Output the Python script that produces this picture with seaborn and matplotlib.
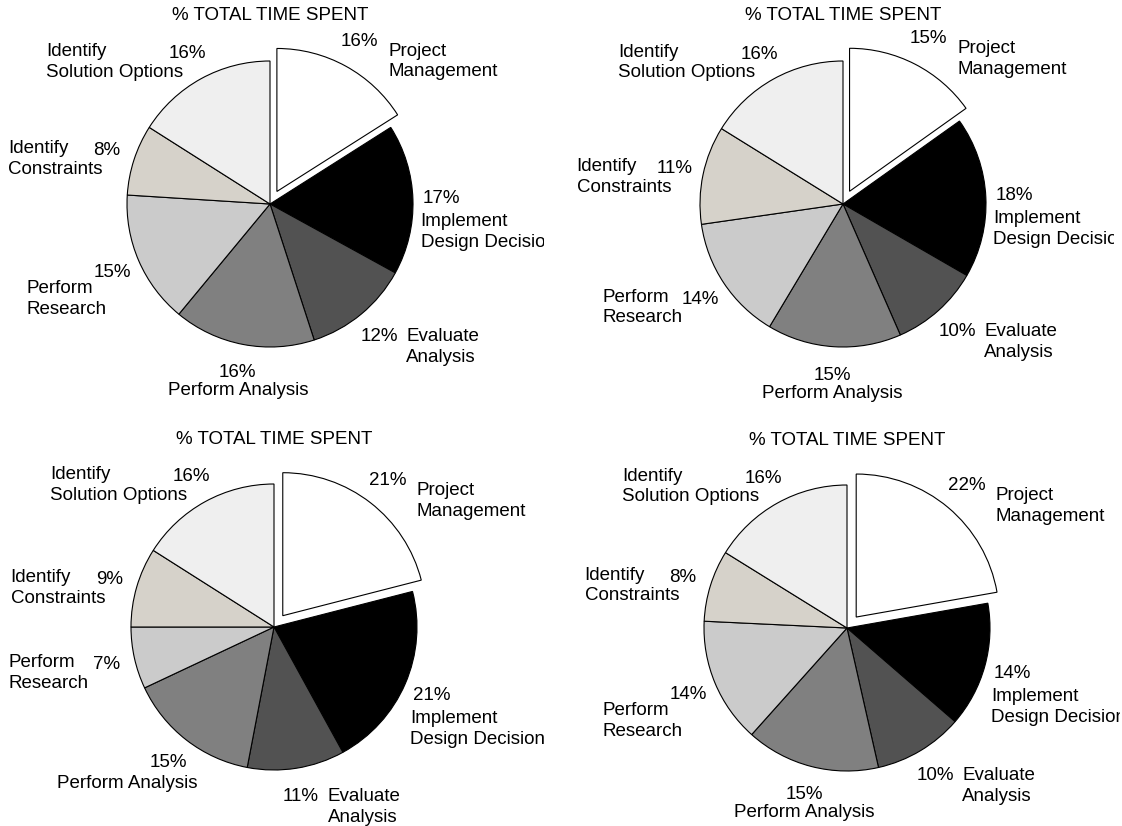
import numpy as np
import matplotlib
matplotlib.use('Agg')
import matplotlib.pyplot as plt
import seaborn as sns

sns.set_theme(style='white')
plt.rcParams['font.family'] = ['Liberation Sans', 'DejaVu Sans']

# data (same category order in each)
categories = ['Project\nManagement', 'Implement\nDesign Decision', 'Evaluate\nAnalysis',
              'Perform Analysis', 'Perform\nResearch', 'Identify\nConstraints',
              'Identify\nSolution Options']
pct_top_left = [16, 17, 12, 16, 15, 8, 16]
pct_top_right = [15, 18, 10, 15, 14, 11, 16]
pct_bottom_left = [21, 21, 11, 15, 7, 9, 16]
pct_bottom_right = [22, 14, 10, 15, 14, 8, 16]
chart_title = '% TOTAL TIME SPENT'

colors = ['#ffffff', '#000000', '#525252', '#808080', '#cbcbcb', '#d6d2ca', '#efefef']
explode = [0.1, 0, 0, 0, 0, 0, 0]

W, H = 1122, 826
R = 143  # pie radius in pixels
FS = 13.5
HALF_LINE = 10.5  # px from text top to middle of first line

# (values, pie centre px, panel box px: x0, x1, y0, y1)
panels = [
    (pct_top_left, (270, 204), (0, 544, 0, 413)),
    (pct_top_right, (843, 204), (561, 1114, 0, 413)),
    (pct_bottom_left, (274, 627), (0, 544, 413, 826)),
    (pct_bottom_right, (847, 628), (561, 1120, 413, 826)),
]


def name_spot(c, s):
    # where the category name goes relative to the percent label
    # returns alignment, x shift, y shift (down) of the first line
    if c > 0.3 and abs(s) < 0.5:
        return 'left', -21, 25
    if c >= 0 and s >= 0:
        return 'left', 29, 12
    if c >= 0:
        return 'left', 27, 2
    if c > -0.3:
        return 'center', 0, 20
    if s < -0.7:
        return 'right', 29, 23
    if -0.5 < s < -0.3:
        return 'right', -6, 18
    if s < 0:
        return 'right', -18, 0
    return 'right', -4, 0


fig = plt.figure(figsize=(W / 100, H / 100), dpi=100)
fig.patch.set_facecolor('white')

for vals, (cx, cy), (x0, x1, y0, y1) in panels:
    ax = fig.add_axes([x0 / W, 1 - y1 / H, (x1 - x0) / W, (y1 - y0) / H])
    wedges, _ = ax.pie(vals, colors=colors, startangle=90, counterclock=False,
                       explode=explode,
                       wedgeprops=dict(edgecolor='black', linewidth=0.8))
    ax.set_aspect('auto')
    ax.set_xlim((x0 - cx) / R, (x1 - cx) / R)
    ax.set_ylim((cy - y1) / R, (cy - y0) / R)
    ax.axis('off')

    ax.text(0, 188 / R, chart_title, ha='center', va='center',
            fontsize=FS, color='black')

    for w, lab, v in zip(wedges, categories, vals):
        th = np.deg2rad((w.theta1 + w.theta2) / 2)
        c, s = np.cos(th), np.sin(th)
        px = w.center[0] + 1.2 * c
        py = w.center[1] + 1.2 * s
        ax.text(px, py, f'{v}%', ha='center', va='center',
                fontsize=FS, color='black', clip_on=True)
        ha, dx, dy = name_spot(c, s)
        ax.annotate(lab, (px, py), xytext=(dx, HALF_LINE - dy),
                    textcoords='offset pixels', ha=ha, va='top',
                    multialignment='center' if ha == 'center' else 'left',
                    linespacing=1.3, fontsize=FS, color='black',
                    annotation_clip=False, clip_on=True)

fig.savefig('out.png', dpi=100)
